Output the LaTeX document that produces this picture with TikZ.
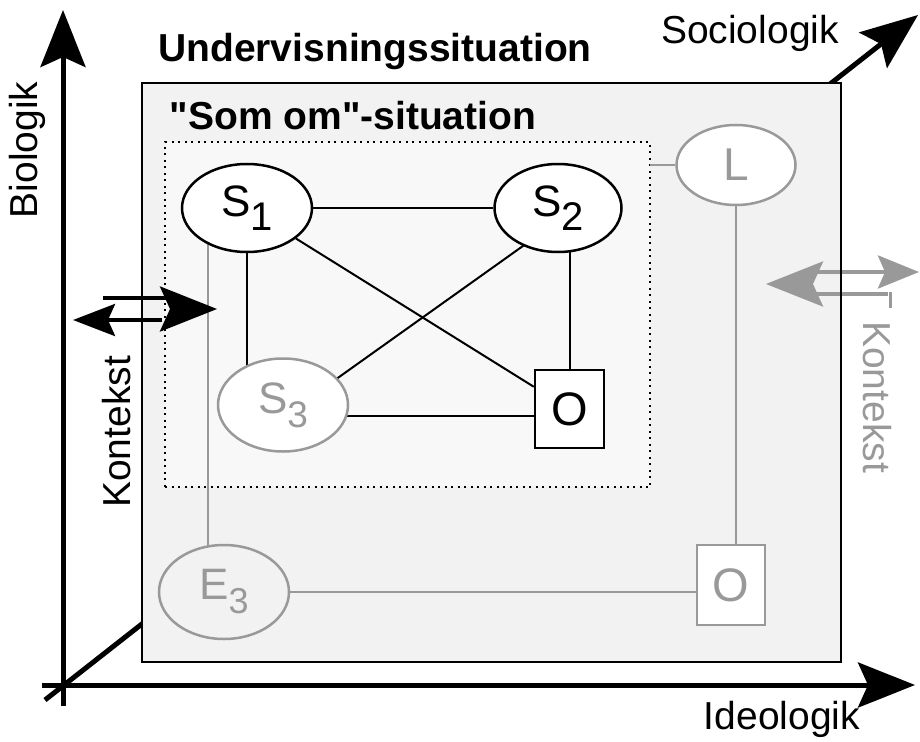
\documentclass[tikz,border=0pt]{standalone}
\usepackage{fontspec}
\setmainfont{Liberation Sans}[Ligatures=TeXOff]
\usetikzlibrary{arrows.meta,shapes.geometric,calc}
\definecolor{grayc}{HTML}{999999}
\definecolor{boxfill}{HTML}{F2F2F2}
\definecolor{innerfill}{HTML}{F8F8F8}
\pgfdeclarelayer{back}
\pgfdeclarelayer{mid}
\pgfsetlayers{back,mid,main}
\newcommand{\sublbl}[3]{{\fontsize{44}{44}\selectfont #1\raisebox{-14pt}{\fontsize{#3}{#3}\selectfont #2}}}
\begin{document}
\begin{tikzpicture}[x=1pt,y=-1pt,
  axisline/.style={line width=5pt},
  bigtip/.style={-{Stealth[length=57pt,width=45pt,inset=10pt]}},
  smalltip/.style={-{Stealth[length=42pt,width=32pt,inset=7pt]}},
  blk/.style={ellipse,draw,line width=2.5pt,fill=white,inner sep=0pt},
  gry/.style={ellipse,draw=grayc,text=grayc,line width=2.5pt,fill=white,inner sep=0pt},
  sq/.style={rectangle,draw,line width=2.5pt,fill=white,inner sep=0pt,font=\fontsize{47}{47}\selectfont},
  ln/.style={line width=2pt},
  gln/.style={line width=2pt,draw=grayc},
  lab/.style={inner sep=0pt,font=\fontsize{39}{39}\selectfont},
  ttl/.style={inner sep=0pt,font=\fontsize{39}{39}\selectfont\bfseries},
  ctx/.style={line width=4pt}
]
\useasboundingbox (0,0) rectangle (920,741);
% axis end points
\coordinate (vb) at (63,706);  \coordinate (vt) at (63,10);
\coordinate (hb) at (42,685);  \coordinate (ht) at (915,685);
\coordinate (db) at (45,700);  \coordinate (dt) at (918,15);

\begin{pgfonlayer}{back}
  \draw[axisline,bigtip] (db) -- (dt);
  \node[draw,line width=2.5pt,fill=boxfill,minimum width=699pt,minimum height=579pt,inner sep=0pt,outer sep=0pt] (undbox) at (491.5,372.5) {};
  \node[draw,line width=2pt,dash pattern=on 2pt off 4.5pt,fill=innerfill,minimum width=485pt,minimum height=345pt,inner sep=0pt,outer sep=0pt] (som) at (407.5,314.5) {};
\end{pgfonlayer}

% axes
\draw[axisline,bigtip] (vb) -- (vt);
\draw[axisline,bigtip] (hb) -- (ht);

% nodes
\node[blk,minimum width=130pt,minimum height=88pt] (S1) at (247,208) {\sublbl{S}{1}{40}};
\node[blk,minimum width=127pt,minimum height=88pt] (S2) at (558,208) {\sublbl{S}{2}{40}};
\node[gry,minimum width=130pt,minimum height=93pt] (S3) at (283,405) {\sublbl{S}{3}{37}};
\node[sq,minimum width=69pt,minimum height=78pt] (O) at (569.5,409) {O};
\node[gry,minimum width=119pt,minimum height=80pt,font=\fontsize{46}{46}\selectfont] (L) at (736,165) {L};
\node[gry,fill=boxfill,minimum width=130pt,minimum height=94pt] (E3) at (224,592) {\sublbl{E}{3}{36}};
\node[sq,draw=grayc,text=grayc,minimum width=68pt,minimum height=80pt] (Og) at (731,585) {O};

% connectors
\begin{pgfonlayer}{mid}
  \draw[ln] (S1) -- (S2);
  \draw[ln] (S1) -- (O);
  \draw[ln] ($(S2)+(0,13)$) -- ($(S3)+(0,12)$);
  \draw[ln] (S1) -- (S1 |- S3);
  \draw[ln] (O) -- (O |- S2);
  \coordinate (s3o) at ($(S3)+(0,11)$);
  \draw[ln] (s3o) -- (s3o -| O);
  \coordinate (gx) at (208,0);
  \draw[gln] (S1 -| gx) -- (E3 -| gx);
  \draw[gln] (E3) -- (E3 -| Og);
  \draw[gln] (L) -- (L |- Og);
  \draw[gln] (L) -- (L -| som.east);
  % right (gray) context arrows
  \draw[ctx,grayc,-{Stealth[length=41pt,width=33pt,inset=7pt]}] (813,272) -- (919,272);
  \draw[ctx,grayc] (888,294) -- (815,294);
  \draw[line width=3pt,grayc] (890,292) -- (890,308);
  \draw[ctx,grayc,bigtip] (813,284) -- (766,284);
\end{pgfonlayer}

% box border redrawn over the gray arrows
\draw[line width=2.5pt] (undbox.north west) rectangle (undbox.south east);

% left (black) context arrows
\coordinate (la1) at (103,298); \coordinate (la2) at (175,298);
\draw[ctx] (la1) -- (la2);
\draw[ctx,smalltip] (162,320) -- (73,320);
\draw[ctx,bigtip] (170,309) -- (217,309);

% labels
\node[ttl] (und) at (375,52) {Undervisningssituation};
\node[ttl] (somt) at (353,116) {"Som om"-situation};
\node[lab] (soc) at (750,33) {Sociologik};
\node[lab] (ide) at (782,719) {Ideologik};
\node[lab,rotate=90] (bio) at (27,150) {Biologik};
\node[lab,rotate=90] (k1) at (117,432) {Kontekst};
\node[lab,rotate=-90,text=grayc] (k2) at (877,397) {Kontekst};
\end{tikzpicture}
\end{document}
